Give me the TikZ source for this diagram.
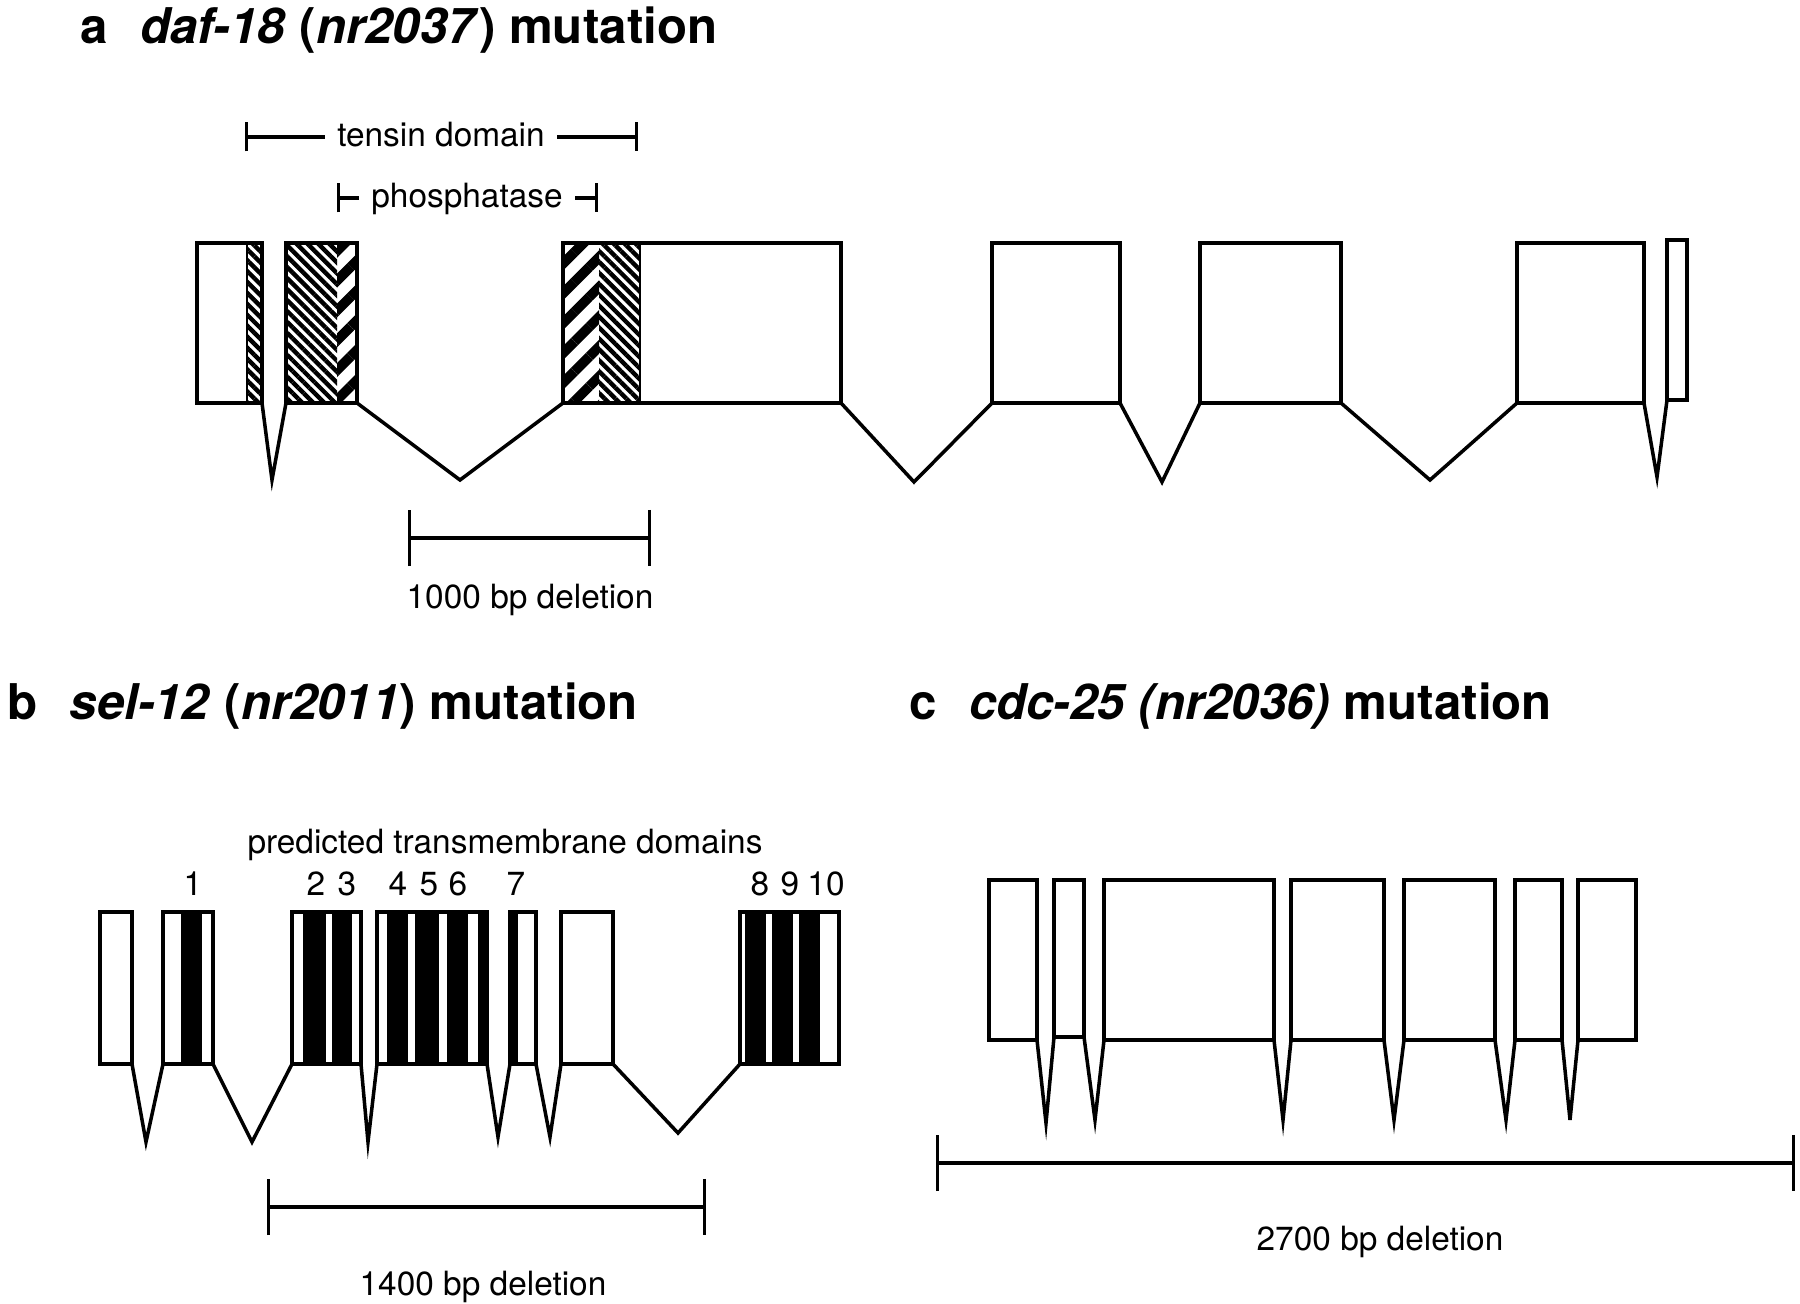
\documentclass[tikz,border=0pt]{standalone}
\usepackage{fontspec}
\setmainfont{TeX Gyre Heros}
\usetikzlibrary{fit,patterns.meta,arrows.meta}

\begin{document}
\begin{tikzpicture}[
  x=0.01cm, y=-0.01cm,
  exon/.style={draw, line width=1pt, inner sep=0pt, outer sep=0pt},
  intron/.style={line width=1pt},
  dense/.style={pattern={Lines[angle=-45, distance=2.2pt, line width=1.25pt]}},
  coarse/.style={pattern={Lines[angle=45, distance=6pt, line width=2.8pt]}},
  paneltitle/.style={font=\fontsize{14}{16}\selectfont\bfseries, anchor=base west, inner sep=0pt},
  lbl/.style={font=\fontsize{9.5}{11}\selectfont, anchor=mid, inner sep=0pt},
  gaplbl/.style={lbl, inner xsep=3.4pt},
  domleft/.style={line width=0.9pt, {Bar[width=0.29cm]}-},
  domright/.style={line width=0.9pt, -{Bar[width=0.29cm]}},
  delbar/.style={line width=0.9pt, {Bar[width=0.56cm]}-{Bar[width=0.56cm]}}
]
\useasboundingbox (0,0) rectangle (1800,1304);

% ------------------------------------------------------------
% a: daf-18 gene
% ------------------------------------------------------------
\node[paneltitle] (ta) at (80,44)
  {a\hspace{0.65em}\textit{daf-18} (\textit{nr2037}) mutation};

% domain brackets
\node[gaplbl] (tensin) at (441,137) {tensin domain};
\coordinate (tensin-l) at (245,137);
\coordinate (tensin-r) at (638,137);
\draw[domleft] (tensin-l) -- (tensin.mid west);
\draw[domright] (tensin.mid east) -- (tensin-r);

\node[gaplbl] (phos) at (467,198) {phosphatase};
\coordinate (phos-l) at (337,198);
\coordinate (phos-r) at (598,198);
\draw[domleft] (phos-l) -- (phos.mid west);
\draw[domright] (phos.mid east) -- (phos-r);

% hatched parts
\path[dense] (247,243) rectangle (262,403);
\path[dense] (286,243) rectangle (337,403);
\path[coarse] (337,243) rectangle (357,403);
\path[coarse] (563,243) rectangle (599,403);
\path[dense] (599,243) rectangle (640,403);
\draw[line width=0.8pt] (247,243) -- (247,403);
\draw[line width=0.8pt] (640,243) -- (640,403);

% exons
\node[exon, fit={(197,243) (262,403)}] (a1) {};
\node[exon, fit={(286,243) (357,403)}] (a2) {};
\node[exon, fit={(563,243) (841,403)}] (a3) {};
\node[exon, fit={(992,243) (1120,403)}] (a4) {};
\node[exon, fit={(1200,243) (1341,403)}] (a5) {};
\node[exon, fit={(1517,243) (1644,403)}] (a6) {};
\node[exon, fit={(1667,240) (1687,400)}] (a7) {};

% introns
\coordinate (a1-tip) at (272,480);
\coordinate (a2-tip) at (460,480);
\coordinate (a3-tip) at (914,482);
\coordinate (a4-tip) at (1162,482);
\coordinate (a5-tip) at (1430,480);
\coordinate (a6-tip) at (1657,477);
\draw[intron] (a1.south east) -- (a1-tip) -- (a2.south west);
\draw[intron] (a2.south east) -- (a2-tip) -- (a3.south west);
\draw[intron] (a3.south east) -- (a3-tip) -- (a4.south west);
\draw[intron] (a4.south east) -- (a4-tip) -- (a5.south west);
\draw[intron] (a5.south east) -- (a5-tip) -- (a6.south west);
\draw[intron] (a6.south east) -- (a6-tip) -- (a7.south west);

% deletion
\coordinate (dela-l) at (408,538);
\coordinate (dela-r) at (651,538);
\draw[delbar] (dela-l) -- (dela-r);
\node[lbl] (dela) at (530,599) {1000 bp deletion};

% ------------------------------------------------------------
% b: sel-12 gene
% ------------------------------------------------------------
\node[paneltitle] (tb) at (7,720)
  {b\hspace{0.65em}\textit{sel-12} (\textit{nr2011}) mutation};

\node[lbl] (tmhead) at (505,844) {predicted transmembrane domains};
\node[lbl] (tm1) at (193,886) {1};
\node[lbl] (tm2) at (316,886) {2};
\node[lbl] (tm3) at (347,886) {3};
\node[lbl] (tm4) at (398,886) {4};
\node[lbl] (tm5) at (429,886) {5};
\node[lbl] (tm6) at (458,886) {6};
\node[lbl] (tm7) at (516,886) {7};
\node[lbl] (tm8) at (760,886) {8};
\node[lbl] (tm9) at (790,886) {9};
\node[lbl] (tm10) at (826,886) {10};

% transmembrane bands
\fill (181,912) rectangle (202,1064);
\fill (303,912) rectangle (326,1064);
\fill (332,912) rectangle (352,1064);
\fill (387,912) rectangle (408,1064);
\fill (415,912) rectangle (439,1064);
\fill (447,912) rectangle (468,1064);
\fill (478,912) rectangle (487,1064);
\fill (510,912) rectangle (518,1064);
\fill (745,912) rectangle (766,1064);
\fill (772,912) rectangle (793,1064);
\fill (799,912) rectangle (820,1064);

% exons
\node[exon, fit={(100,912) (132,1064)}] (b1) {};
\node[exon, fit={(163,912) (213,1064)}] (b2) {};
\node[exon, fit={(292,912) (361,1064)}] (b3) {};
\node[exon, fit={(377,912) (487,1064)}] (b4) {};
\node[exon, fit={(510,912) (536,1064)}] (b5) {};
\node[exon, fit={(561,912) (613,1064)}] (b6) {};
\node[exon, fit={(740,912) (839,1064)}] (b7) {};

% introns
\coordinate (b1-tip) at (146,1142);
\coordinate (b2-tip) at (252,1142);
\coordinate (b3-tip) at (368,1142);
\coordinate (b4-tip) at (498,1137);
\coordinate (b5-tip) at (550,1137);
\coordinate (b6-tip) at (678,1133);
\draw[intron] (b1.south east) -- (b1-tip) -- (b2.south west);
\draw[intron] (b2.south east) -- (b2-tip) -- (b3.south west);
\draw[intron] (b3.south east) -- (b3-tip) -- (b4.south west);
\draw[intron] (b4.south east) -- (b4-tip) -- (b5.south west);
\draw[intron] (b5.south east) -- (b5-tip) -- (b6.south west);
\draw[intron] (b6.south east) -- (b6-tip) -- (b7.south west);

% deletion
\coordinate (delb-l) at (267,1207);
\coordinate (delb-r) at (706,1207);
\draw[delbar] (delb-l) -- (delb-r);
\node[lbl] (delb) at (483,1286) {1400 bp deletion};

% ------------------------------------------------------------
% c: cdc-25 gene
% ------------------------------------------------------------
\node[paneltitle] (tc) at (909,720)
  {c\hspace{0.65em}\textit{cdc-25 (nr2036)} mutation};

% exons
\node[exon, fit={(989,880) (1037,1040)}] (c1) {};
\node[exon, fit={(1054,880) (1084,1037)}] (c2) {};
\node[exon, fit={(1104,880) (1274,1040)}] (c3) {};
\node[exon, fit={(1291,880) (1384,1040)}] (c4) {};
\node[exon, fit={(1404,880) (1495,1040)}] (c5) {};
\node[exon, fit={(1515,880) (1562,1040)}] (c6) {};
\node[exon, fit={(1578,880) (1636,1040)}] (c7) {};

% introns
\coordinate (c1-tip) at (1046,1123);
\coordinate (c2-tip) at (1095,1120);
\coordinate (c3-tip) at (1283,1120);
\coordinate (c4-tip) at (1394,1120);
\coordinate (c5-tip) at (1506,1120);
\coordinate (c6-tip) at (1570,1120);
\draw[intron] (c1.south east) -- (c1-tip) -- (c2.south west);
\draw[intron] (c2.south east) -- (c2-tip) -- (c3.south west);
\draw[intron] (c3.south east) -- (c3-tip) -- (c4.south west);
\draw[intron] (c4.south east) -- (c4-tip) -- (c5.south west);
\draw[intron] (c5.south east) -- (c5-tip) -- (c6.south west);
\draw[intron] (c6.south east) -- (c6-tip) -- (c7.south west);

% deletion
\coordinate (delc-l) at (936,1163);
\coordinate (delc-r) at (1795,1163);
\draw[delbar] (delc-l) -- (delc-r);
\node[lbl] (delc) at (1380,1241) {2700 bp deletion};

\end{tikzpicture}
\end{document}
